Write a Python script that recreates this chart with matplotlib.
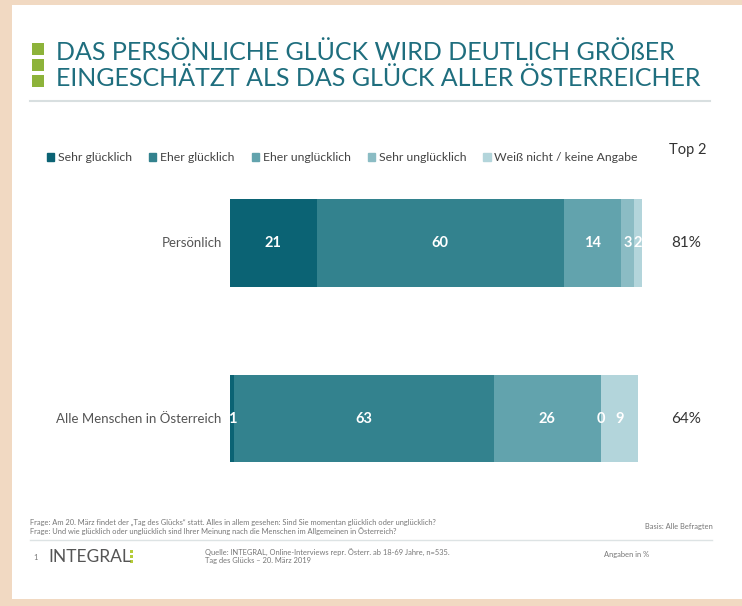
import numpy as np
import matplotlib
matplotlib.use('Agg')
import matplotlib.pyplot as plt
from matplotlib.patches import Rectangle
from matplotlib.lines import Line2D

# Data
groups = ['Persönlich', 'Alle Menschen in Österreich']
categories = ['Sehr glücklich', 'Eher glücklich', 'Eher unglücklich',
              'Sehr unglücklich', 'Weiß nicht / keine Angabe']
values = {
    'Persönlich': [21, 60, 14, 3, 2],
    'Alle Menschen in Österreich': [1, 63, 26, 0, 9],
}
top2 = ['81%', '64%']
colors = ['#0b6374', '#33828e', '#62a3ad', '#8bbcc4', '#b3d5db']

title_lines = ['DAS PERSÖNLICHE GLÜCK WIRD DEUTLICH GRÖßER',
               'EINGESCHÄTZT ALS DAS GLÜCK ALLER ÖSTERREICHER']

W, H = 742, 606


def main():
    plt.rcParams['font.family'] = ['Lato', 'DejaVu Sans']
    fig = plt.figure(figsize=(W / 100, H / 100), dpi=100)
    fig.patch.set_facecolor('#f1d9c2')

    # white card
    fig.patches.append(Rectangle((12 / W, 1 - 599 / H), (W - 12) / W, (599 - 5) / H,
                                 transform=fig.transFigure, facecolor='white',
                                 edgecolor='none', zorder=-5))

    # green squares next to the title
    for yy in [43, 59, 75]:
        fig.patches.append(Rectangle((32 / W, 1 - (yy + 12) / H), 12 / W, 12 / H,
                                     transform=fig.transFigure, facecolor='#8db33a',
                                     edgecolor='none'))
    fig.text(56 / W, 1 - 52 / H, title_lines[0], fontsize=18, color='#1f6e7e',
             va='center', ha='left')
    fig.text(56 / W, 1 - 79 / H, title_lines[1], fontsize=18, color='#1f6e7e',
             va='center', ha='left')
    fig.add_artist(Line2D([30 / W, 710 / W], [1 - 101 / H, 1 - 101 / H],
                          transform=fig.transFigure, color='#d8dfe0', lw=1.5))

    # bar axes
    ax = fig.add_axes([230 / W, 1 - 490 / H, 412 / W, 320 / H])
    ax.set_zorder(2)
    y = np.arange(len(groups))
    left = np.zeros(len(groups))
    for i, cat in enumerate(categories):
        vals = np.array([values[g][i] for g in groups])
        ax.barh(y, vals, left=left, height=0.5, color=colors[i], label=cat)
        for j, v in enumerate(vals):
            ax.text(left[j] + v / 2, y[j], str(v), ha='center', va='center',
                    color='white', fontsize=10.5, fontweight='bold')
        left = left + vals
    ax.set_xlim(0, 100)
    ax.set_ylim(1.407, -0.416)
    ax.axis('off')

    for j, g in enumerate(groups):
        ax.text(-2, y[j], g, ha='right', va='center', fontsize=9.5, color='#555555',
                transform=ax.transData)
        ax.text(110.7, y[j], top2[j], ha='center', va='center', fontsize=11,
                color='#333333')

    fig.text(688 / W, 1 - 150 / H, 'Top 2', ha='center', va='center', fontsize=10.5,
             color='#333333')

    handles = [Rectangle((0, 0), 1, 1, color=c) for c in colors]
    fig.legend(handles, categories, loc='center left',
               bbox_to_anchor=(36 / W, 1 - 158 / H), ncol=5, frameon=False,
               fontsize=8.8, handlelength=0.6, handleheight=0.6,
               handletextpad=0.3, columnspacing=1.4, labelcolor='#444444')

    # footer
    small = dict(fontsize=5.4, color='#777777', va='center', ha='left')
    fig.text(30 / W, 1 - 522 / H,
             'Frage: Am 20. März findet der „Tag des Glücks“ statt. Alles in allem gesehen: '
             'Sind Sie momentan glücklich oder unglücklich?', **small)
    fig.text(30 / W, 1 - 531 / H,
             'Frage: Und wie glücklich oder unglücklich sind Ihrer Meinung nach die Menschen '
             'im Allgemeinen in Österreich?', **small)
    fig.text(645 / W, 1 - 527 / H, 'Basis: Alle Befragten', **small)
    fig.add_artist(Line2D([30 / W, 712 / W], [1 - 540 / H, 1 - 540 / H],
                          transform=fig.transFigure, color='#dde3e4', lw=1))
    fig.text(33 / W, 1 - 557 / H, '1', fontsize=5.5, color='#777777', va='center')
    fig.text(48 / W, 1 - 557 / H, 'INTEGRAL', fontsize=12.5, color='#555555', va='center')
    for yy in [551, 556, 561]:
        fig.patches.append(Rectangle((130 / W, 1 - (yy + 2) / H), 3 / W, 3 / H,
                                     transform=fig.transFigure, facecolor='#b5cc3a',
                                     edgecolor='none'))
    fig.text(205 / W, 1 - 552 / H,
             'Quelle: INTEGRAL, Online-Interviews repr. Österr. ab 18-69 Jahre, n=535.', **small)
    fig.text(205 / W, 1 - 561 / H, 'Tag des Glücks – 20. März 2019', **small)
    fig.text(604 / W, 1 - 554 / H, 'Angaben in %', **small)

    fig.savefig('out.png', dpi=100, facecolor=fig.get_facecolor())


if __name__ == "__main__":
    main()
